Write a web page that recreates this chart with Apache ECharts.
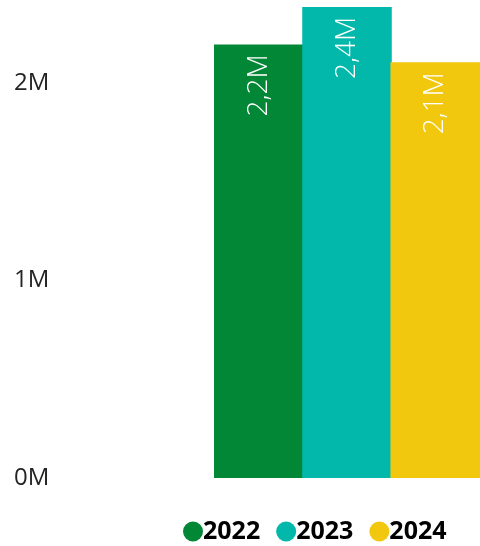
<!DOCTYPE html>
<html><head><meta charset="utf-8">
<script src="https://cdn.jsdelivr.net/npm/echarts@6/dist/echarts.min.js"></script>
<style>html,body{margin:0;padding:0;background:#fff}#c{width:480px;height:546px}</style>
</head><body><div id="c"></div>
<script>
const categories = ['Total'];
const years = ['2022', '2023', '2024'];
const values = [2195000, 2385000, 2105000];
const colors = ['#028736', '#01B8AA', '#F2C80F'];
const yTicks = [0, 1000000, 2000000];

const chart = echarts.init(document.getElementById('c'));
const fmt = v => (v / 1e6).toFixed(1).replace('.', ',') + 'M';
chart.setOption({
  animation: false,
  grid: { left: 214, width: 267, top: 0, bottom: 68 },
  xAxis: { type: 'category', data: categories, show: false },
  yAxis: {
    type: 'value', min: 0, max: 2420000, interval: 1000000,
    splitLine: { show: false }, axisLine: { show: false }, axisTick: { show: false },
    axisLabel: {
      showMaxLabel: false,
      align: 'left', margin: 200,
      fontFamily: 'Open Sans', fontSize: 24, color: '#252423',
      formatter: v => yTicks.includes(v) ? (v / 1e6) + 'M' : ''
    }
  },
  legend: {
    left: 178, top: 514, icon: 'circle', itemWidth: 20, itemHeight: 20, itemGap: 16,
    textStyle: { fontFamily: 'Open Sans', fontWeight: 'bold', fontSize: 25, color: '#000', padding: [0, 0, 0, -5] },
    data: years
  },
  series: years.map((y, i) => ({
    name: y, type: 'bar', data: [values[i]], barGap: '-1.5%', barCategoryGap: '0%',
    itemStyle: { color: colors[i] },
    label: {
      show: true, position: 'insideTop', rotate: 90, align: 'right', verticalAlign: 'middle',
      distance: 10, color: '#fff', fontFamily: 'Open Sans', fontWeight: 300, fontSize: 28,
      formatter: p => fmt(p.value)
    }
  }))
});
</script></body></html>
